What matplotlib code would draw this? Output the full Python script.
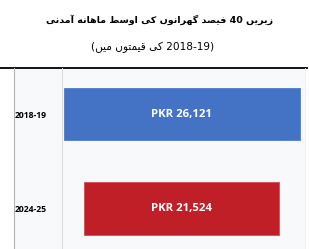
import re
import matplotlib
matplotlib.use("Agg")
import matplotlib.pyplot as plt
from matplotlib.lines import Line2D
from matplotlib.patches import Rectangle

# data
years = ["2018-19", "2024-25"]
income = [26121, 21524]
bar_colors = ["#4472c4", "#c01f27"]
edge_colors = ["#5a84cc", "#d8545b"]

title = "زیریں 40 فیصد گھرانوں کی اوسط ماہانہ آمدنی"
subtitle = "(2018-19 کی قیمتوں میں)"

# matplotlib has no arabic shaping / bidi, so do a small one by hand
# forms: isolated, final, initial, medial
# (DejaVu lacks the heh goal initial/final glyphs, the plain heh ones stand in)
FORMS = {
    "ا": (0xFE8D, 0xFE8E, None, None),
    "آ": (0xFE81, 0xFE82, None, None),
    "د": (0xFEA9, 0xFEAA, None, None),
    "ر": (0xFEAD, 0xFEAE, None, None),
    "ز": (0xFEAF, 0xFEB0, None, None),
    "و": (0xFEED, 0xFEEE, None, None),
    "ت": (0xFE95, 0xFE96, 0xFE97, 0xFE98),
    "س": (0xFEB1, 0xFEB2, 0xFEB3, 0xFEB4),
    "ص": (0xFEB9, 0xFEBA, 0xFEBB, 0xFEBC),
    "ط": (0xFEC1, 0xFEC2, 0xFEC3, 0xFEC4),
    "ف": (0xFED1, 0xFED2, 0xFED3, 0xFED4),
    "ق": (0xFED5, 0xFED6, 0xFED7, 0xFED8),
    "م": (0xFEE1, 0xFEE2, 0xFEE3, 0xFEE4),
    "ن": (0xFEE5, 0xFEE6, 0xFEE7, 0xFEE8),
    "ک": (0xFB8E, 0xFB8F, 0xFB90, 0xFB91),
    "گ": (0xFB92, 0xFB93, 0xFB94, 0xFB95),
    "ں": (0xFB9E, 0xFB9F, None, None),
    "ھ": (0xFBAA, 0xFBAB, 0xFBAC, 0xFBAD),
    "ہ": (0xFBA6, 0xFEEA, 0xFEEB, 0xFEEC),
    "ی": (0xFBFC, 0xFBFD, 0xFBFE, 0xFBFF),
}
DUAL = set("تسصطفقمنکگھہیں")


def shape(text):
    out = []
    for i, ch in enumerate(text):
        if ch not in FORMS:
            out.append(ch)
            continue
        prev = text[i - 1] if i > 0 else ""
        nxt = text[i + 1] if i + 1 < len(text) else ""
        jp = prev in DUAL
        jn = ch in DUAL and nxt in FORMS
        iso, fin, ini, med = FORMS[ch]
        if jp and jn:
            cp = med or fin
        elif jp:
            cp = fin
        elif jn:
            cp = ini or iso
        else:
            cp = iso
        out.append(chr(cp))
    return "".join(out)


def rtl(text):
    shaped = shape(text)
    tokens = re.findall(r"[0-9A-Za-z\-.,]+|\s+|[^\s0-9A-Za-z\-.,()]+|[()]", shaped)
    mirror = {"(": ")", ")": "("}
    vis = []
    for t in reversed(tokens):
        if re.match(r"[0-9A-Za-z]", t):
            vis.append(t)
        elif t in mirror:
            vis.append(mirror[t])
        else:
            vis.append(t[::-1])
    return "".join(vis)


fig = plt.figure(figsize=(3.09, 2.49), dpi=100)
fig.patch.set_facecolor("white")

W, H = 309.0, 249.0

# light panel behind the chart
fig.patches.append(Rectangle((14 / W, 0), 291 / W, 181 / H, transform=fig.transFigure,
                             facecolor="#f8f9fb", edgecolor="none", zorder=-5))
fig.lines.append(Line2D([0, 307 / W], [181 / H, 181 / H], transform=fig.transFigure,
                        color="black", lw=1.3))
fig.lines.append(Line2D([14 / W, 14 / W], [0, 181 / H], transform=fig.transFigure,
                        color="#b4b4b4", lw=0.8))
fig.lines.append(Line2D([62 / W, 62 / W], [0, 181 / H], transform=fig.transFigure,
                        color="#dcdcdc", lw=0.7))
fig.lines.append(Line2D([305 / W, 305 / W], [0, 181 / H], transform=fig.transFigure,
                        color="#eeeeee", lw=0.6))

fig.text(159 / W, 1 - 20 / H, rtl(title), ha="center", va="center",
         fontsize=6.8, fontweight="bold", family="DejaVu Sans")
fig.text(153 / W, 1 - 47 / H, rtl(subtitle), ha="center", va="center",
         fontsize=7.6, family="DejaVu Sans")

ax = fig.add_axes([62 / W, 0, 243 / W, 181 / H])
ax.set_facecolor("none")

pos = list(range(len(years)))
lefts = [-v / 2 for v in income]
bars = ax.barh(pos, income, left=lefts, height=0.556, color=bar_colors,
               edgecolor=edge_colors, linewidth=0.7)
for p, v in zip(pos, income):
    ax.text(0, p, "PKR {:,}".format(v), ha="center", va="center",
            color="white", fontsize=8.2, fontweight="bold", family="Open Sans")

ax.set_xlim(-13232, 13619)
ax.set_ylim(1.429, -0.487)
ax.set_yticks(pos)
ax.set_yticklabels(years, fontsize=6.2, fontweight="bold", family="Open Sans")
ax.tick_params(axis="y", length=0, pad=10.8)
ax.set_xticks([])
for s in ax.spines.values():
    s.set_visible(False)

fig.savefig("out.png", dpi=100)
